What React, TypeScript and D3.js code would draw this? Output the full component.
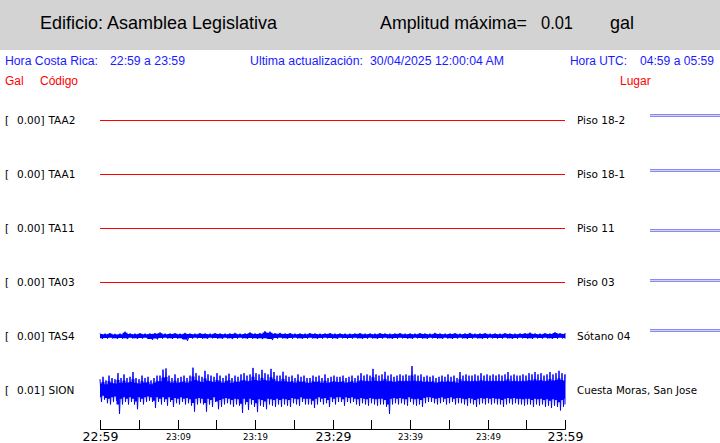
import React from "react";
import * as d3 from "d3";

// ---- data ----
const codes = ["TAA2", "TAA1", "TA11", "TA03", "TAS4", "SION"];
const places = ["Piso 18-2", "Piso 18-1", "Piso 11", "Piso 03", "Sótano 04", "Cuesta Moras, San Jose"];
const peakGal = ["0.00", "0.00", "0.00", "0.00", "0.00", "0.01"];
const flatSeries = [0, 0]; // mgal, start / end of window

// TAS4 envelope (mgal), 94 samples over the hour
const tas4High = [
  1.1, 1.0, 1.2, 0.9, 1.0, 1.8, 1.1, 1.0, 1.2, 1.0,
  1.1, 1.2, 1.5, 1.0, 1.1, 1.2, 1.0, 1.3, 1.1, 1.0,
  1.2, 1.1, 1.0, 1.2, 1.1, 1.0, 1.1, 1.3, 1.0, 1.1,
  1.5, 1.1, 1.2, 2.0, 1.8, 1.2, 1.3, 1.1, 1.2, 1.0,
  1.1, 1.0, 1.2, 1.1, 1.0, 1.1, 1.2, 1.0, 1.1, 1.0,
  1.0, 1.1, 1.2, 1.0, 1.1, 1.0, 1.2, 1.1, 1.0, 1.1,
  1.2, 1.0, 1.1, 1.0, 1.2, 1.1, 1.0, 1.3, 1.1, 1.0,
  1.1, 1.2, 1.0, 1.1, 1.3, 1.0, 1.1, 1.2, 1.0, 1.1,
  1.0, 1.2, 1.1, 1.0, 1.1, 1.2, 1.4, 1.1, 1.0, 1.2,
  1.1, 1.6, 1.2, 1.1,
];
const tas4Low = [
  1.2, 1.1, 1.0, 1.2, 1.1, 1.3, 1.0, 1.2, 1.1, 1.0,
  1.6, 1.4, 1.1, 1.0, 1.2, 1.1, 1.2, 2.0, 1.1, 1.0,
  1.1, 1.2, 1.0, 1.1, 1.2, 1.0, 1.3, 1.1, 1.0, 1.2,
  1.1, 1.2, 1.3, 1.2, 1.7, 1.1, 1.0, 1.2, 1.1, 1.0,
  1.2, 1.1, 1.0, 1.2, 1.1, 1.0, 1.1, 1.2, 1.0, 1.1,
  1.1, 1.0, 1.2, 1.1, 1.0, 1.2, 1.1, 1.0, 1.2, 1.1,
  1.0, 1.1, 1.2, 1.0, 1.1, 1.2, 1.0, 1.1, 1.2, 1.0,
  1.2, 1.1, 1.0, 1.2, 1.1, 1.0, 1.2, 1.1, 1.0, 1.1,
  1.1, 1.0, 1.2, 1.1, 1.0, 1.1, 1.2, 1.0, 1.1, 1.0,
  1.2, 1.1, 1.0, 1.1,
];

// SION envelope (mgal), 156 samples over the hour
const sionHigh = [
  4.5, 5.5, 4, 6, 5, 4.5, 7, 5, 6.5, 5,
  5.5, 7.5, 5, 4.5, 6, 5, 5.5, 4, 5, 6,
  6, 8.5, 9, 6, 5, 6.5, 5, 5.5, 6, 5,
  6, 9.3, 7, 6, 5.5, 8, 6.5, 6, 5.5, 7,
  6, 5, 6, 6.8, 5, 6, 5.5, 6.5, 7, 6,
  6.5, 9.2, 7, 6.5, 8.4, 7, 6.5, 8.8, 7.5, 6,
  6, 7.6, 6, 5.5, 6, 5, 6.5, 5.5, 6, 5,
  5, 6, 5.5, 6, 5, 6.5, 5, 5.5, 6, 5.5,
  5.5, 6, 5, 5.5, 6, 5, 6, 7, 6, 6.5,
  6, 8.8, 6.5, 6, 6.5, 7.6, 6, 6.5, 5.5, 6,
  6.5, 6, 6.5, 6, 10, 6.5, 6, 6.5, 5.5, 6,
  5.5, 6, 5, 5.5, 6, 5.5, 6.5, 5.5, 6, 5,
  7.5, 6, 6.5, 6, 6, 6.5, 6, 7, 6, 6.5,
  6, 6.5, 6, 6.5, 6, 6.5, 7.5, 6, 6.5, 6,
  6, 6.5, 6, 7, 6.5, 7.5, 6.5, 7, 6, 6.5,
  7.5, 6.5, 7, 8, 7, 6.5,
];
const sionLow = [
  5, 4, 5.5, 6, 5, 4.5, 10, 6, 5, 6,
  5, 6, 8, 5, 6, 5, 4.5, 5, 7.5, 5,
  6, 5, 6.5, 5, 7, 5.5, 6, 5, 6, 5.5,
  6.5, 9, 6, 5.5, 6, 9, 6, 7, 5, 8,
  7, 6, 5.5, 6, 7, 6, 6.5, 9.5, 6, 8.3,
  6, 7, 9.2, 6.5, 7, 8, 6, 6.5, 7, 6,
  7, 6, 6.5, 7, 5.5, 6, 6.5, 5, 6, 6,
  6, 7.5, 6, 5, 6, 5.5, 7, 5, 6, 5,
  5, 6.5, 5, 5.5, 5, 6, 6.5, 5.5, 6, 6.5,
  5.5, 6, 6.5, 6, 6, 7, 10, 6, 5.5, 6,
  5.5, 6, 6.5, 5, 6, 6.5, 6, 7, 5.5, 5,
  5, 5.5, 6, 5.5, 5, 6, 5.5, 5, 6, 5.5,
  5.5, 6, 6.5, 5.5, 6, 7, 6, 5.5, 6, 5.5,
  6, 5.5, 6, 6, 7, 6, 5.5, 6, 5.5, 6,
  6, 6.5, 6, 6, 7, 6, 6.5, 6, 7, 6.5,
  7.5, 6.5, 7, 8.5, 7, 6,
];

const startTime = new Date(2025, 3, 29, 22, 59);
const endTime = new Date(2025, 3, 29, 23, 59);

export default function App() {
  const W = 720, H = 443;
  const x = d3.scaleTime().domain([startTime, endTime]).range([100, 565]);
  const rowY = d3.scalePoint<string>().domain(codes).range([120, 390]);
  const yFor = (code: string) =>
    d3.scaleLinear().domain([-10, 10]).range([rowY(code)! + 24, rowY(code)! - 24]);

  const timeAt = (i: number, n: number) =>
    new Date(+startTime + (i * (+endTime - +startTime)) / (n - 1));

  // trace drawn as an oscillating line: each sample swings to its high then its low
  const wiggle = (code: string, hi: number[], lo: number[]) => {
    const y = yFor(code);
    const n = hi.length;
    const pts: [number, number][] = [];
    hi.forEach((h, i) => {
      const x0 = x(timeAt(i, n));
      const x1 = i < n - 1 ? x(timeAt(i + 1, n)) : x0;
      pts.push([x0, y(h)]);
      pts.push([x0 + (x1 - x0) / 2, y(-lo[i])]);
    });
    return d3.line()(pts) as string;
  };

  const envelopeCore = (code: string, hi: number[], lo: number[], k: number) => {
    const y = yFor(code);
    const n = hi.length;
    return d3
      .area<number>()
      .x((_, i) => x(timeAt(i, n)))
      .y0((_, i) => y(-lo[i] * k))
      .y1((_, i) => y(hi[i] * k))
      .curve(d3.curveStep)(hi) as string;
  };

  const flatLine = (code: string) => {
    const y = yFor(code);
    const n = flatSeries.length;
    return d3
      .line<number>()
      .x((_, i) => x(timeAt(i, n)))
      .y((v) => Math.round(y(v)) + 0.5)(flatSeries) as string;
  };

  const ticks = d3.range(13).map((k) => d3.timeMinute.offset(startTime, 5 * k));
  const fmt = d3.timeFormat("%H:%M");

  const blue = "#1a1aff";
  const red = "#ff0000";
  const markYs = [114.5, 169.5, 229.5, 279.5, 329.5];

  return (
    <svg
      width={W}
      height={H}
      style={{ position: "absolute", left: 0, top: 0, background: "#fff" }}
    >
      <rect x={0} y={0} width={W} height={50} fill="#d3d3d3" />
      <g fontFamily="'Liberation Sans', Arial, sans-serif" fill="#000" fontSize={19}>
        <text x={40} y={29} textLength={237} lengthAdjust="spacingAndGlyphs">Edificio: Asamblea Legislativa</text>
        <text x={380} y={29} textLength={147} lengthAdjust="spacingAndGlyphs">Amplitud máxima=</text>
        <text x={541} y={29} textLength={32} lengthAdjust="spacingAndGlyphs">0.01</text>
        <text x={610} y={29} textLength={24} lengthAdjust="spacingAndGlyphs">gal</text>
      </g>
      <g fontFamily="'Liberation Sans', Arial, sans-serif" fill={blue} fontSize={12}>
        <text x={5} y={65} textLength={93} lengthAdjust="spacingAndGlyphs">Hora Costa Rica:</text>
        <text x={110} y={65} textLength={75} lengthAdjust="spacingAndGlyphs">22:59 a 23:59</text>
        <text x={250} y={65} textLength={113} lengthAdjust="spacingAndGlyphs">Ultima actualización:</text>
        <text x={370} y={65} textLength={134} lengthAdjust="spacingAndGlyphs">30/04/2025 12:00:04 AM</text>
        <text x={570} y={65} textLength={57} lengthAdjust="spacingAndGlyphs">Hora UTC:</text>
        <text x={640} y={65} textLength={74} lengthAdjust="spacingAndGlyphs">04:59 a 05:59</text>
      </g>
      <g fontFamily="'Liberation Sans', Arial, sans-serif" fill={red} fontSize={12}>
        <text x={5} y={85}>Gal</text>
        <text x={40} y={85}>Código</text>
        <text x={620} y={85}>Lugar</text>
      </g>

      {codes.map((c, i) => (
        <g key={c} fontFamily="'DejaVu Sans', sans-serif" fontSize={10.5} fill="#000">
          <text x={5} y={rowY(c)! + 4}>[</text>
          <text x={44.5} y={rowY(c)! + 4} textAnchor="end">{peakGal[i]}]</text>
          <text x={48.5} y={rowY(c)! + 4}>{c}</text>
          <text
            x={577}
            y={rowY(c)! + 4}
            {...(places[i].length > 12 ? { textLength: 120, lengthAdjust: "spacingAndGlyphs" } : {})}
          >
            {places[i]}
          </text>
        </g>
      ))}

      {codes.slice(0, 4).map((c) => (
        <path key={c} d={flatLine(c)} stroke={red} strokeWidth={1} fill="none" />
      ))}
      <path d={envelopeCore("TAS4", tas4High, tas4Low, 0.75)} fill="#0000ff" />
      <path d={wiggle("TAS4", tas4High, tas4Low)} fill="none" stroke="#0000ff" strokeWidth={1} />
      <path d={envelopeCore("SION", sionHigh, sionLow, 0.6)} fill="#0000ff" />
      <path d={wiggle("SION", sionHigh, sionLow)} fill="none" stroke="#0000ff" strokeWidth={1} />

      {markYs.map((y) => (
        <g key={y}>
          <line x1={650} x2={720} y1={y} y2={y} stroke="#8c8cf0" strokeWidth={1} />
          <line x1={650} x2={720} y1={y + 1} y2={y + 1} stroke="#d0d0f8" strokeWidth={1} />
          <line x1={650} x2={720} y1={y + 2} y2={y + 2} stroke="#8c8cf0" strokeWidth={1} />
        </g>
      ))}

      <g>
        <line x1={x(startTime)} x2={x(endTime) + 0.5} y1={429.5} y2={429.5} stroke="#000" strokeWidth={1} />
        {ticks.map((t, k) => {
          const xx = Math.round(x(t)) + 0.5;
          const labeled = k % 2 === 0;
          const big = k % 6 === 0;
          return (
            <g key={+t}>
              <line x1={xx} x2={xx} y1={420} y2={429.5} stroke="#000" strokeWidth={1} />
              {labeled && (
                <text
                  x={xx}
                  y={big ? 441 : 440}
                  textAnchor="middle"
                  fontFamily="'DejaVu Sans', sans-serif"
                  fontSize={big ? 12.5 : 8.6}
                  fill="#000"
                >
                  {fmt(t)}
                </text>
              )}
            </g>
          );
        })}
      </g>
    </svg>
  );
}
